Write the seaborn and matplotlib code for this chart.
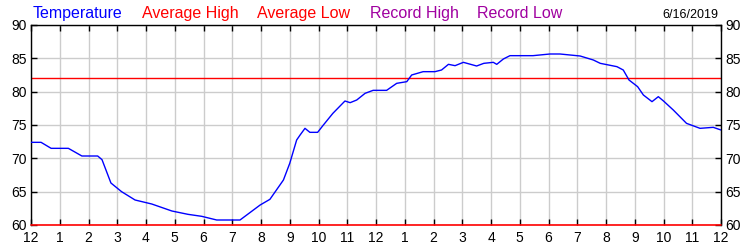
import matplotlib
matplotlib.use("Agg")
import matplotlib.pyplot as plt
import seaborn as sns
import pandas as pd

hours = [0.0, 0.35, 0.7, 1.3, 1.77, 2.32, 2.47, 2.78, 3.15, 3.62, 4.2, 4.9, 5.46, 5.94,
         6.46, 7.27, 7.97, 8.31, 8.78, 9.0, 9.24, 9.36, 9.53, 9.7, 9.97, 10.17, 10.5,
         10.92, 11.1, 11.33, 11.62, 11.9, 12.37, 12.72, 13.07, 13.24, 13.64, 14.05,
         14.28, 14.52, 14.75, 15.04, 15.5, 15.75, 16.08, 16.2, 16.43, 16.66, 17.46,
         18.05, 18.4, 19.1, 19.56, 19.8, 20.38, 20.6, 20.8, 21.1, 21.3, 21.6, 21.82,
         22.0, 22.34, 22.8, 23.27, 23.73, 24.0]
temps = [72.4, 72.4, 71.5, 71.5, 70.35, 70.35, 69.8, 66.3, 65.0, 63.75, 63.15, 62.1, 61.6, 61.3,
         60.75, 60.75, 63.0, 63.85, 66.75, 69.25, 72.75, 73.5, 74.5, 73.9, 73.9, 75.0, 76.75,
         78.6, 78.35, 78.75, 79.75, 80.2, 80.2, 81.25, 81.5, 82.5, 83.0, 83.0,
         83.25, 84.1, 83.9, 84.4, 83.85, 84.25, 84.4, 84.1, 84.9, 85.4, 85.4,
         85.65, 85.65, 85.35, 84.75, 84.25, 83.75, 83.25, 81.75, 80.75, 79.5, 78.5, 79.25,
         78.6, 77.25, 75.25, 74.5, 74.65, 74.25]
avg_high = 82
avg_low = 60
x_tick_labels = ["12", "1", "2", "3", "4", "5", "6", "7", "8", "9", "10", "11",
                 "12", "1", "2", "3", "4", "5", "6", "7", "8", "9", "10", "11", "12"]
y_ticks = [60, 65, 70, 75, 80, 85, 90]
legend_items = ["Temperature", "Average High", "Average Low", "Record High", "Record Low"]
legend_colors = ["#0000ff", "#ff0000", "#ff0000", "#a000a0", "#a000a0"]
date_label = "6/16/2019"

sns.set_style("white")
plt.rcParams['font.family'] = ['Liberation Sans', 'DejaVu Sans']

fig = plt.figure(figsize=(7.5, 2.5), dpi=100)
ax = fig.add_axes([31/750, 25/250, 690/750, 200/250])

df = pd.DataFrame({"hour": hours, "temp": temps})
sns.lineplot(data=df, x="hour", y="temp", ax=ax, color="#0000ff", linewidth=1.0, zorder=3)
ax.axhline(avg_high, color="#ff0000", linewidth=1.0, zorder=2)
ax.axhline(avg_low, color="#ff0000", linewidth=1.2, zorder=4, clip_on=False)

ax.set_xlim(0, 24)
ax.set_ylim(60, 90)
ax.set_xticks(range(25))
ax.set_xticklabels(x_tick_labels)
ax.set_yticks(y_ticks)
ax.set_xlabel("")
ax.set_ylabel("")
ax.grid(True, color="#cccccc", linewidth=1.0, zorder=1)
ax.set_axisbelow(True)
for s in ["left", "right", "top"]:
    ax.spines[s].set_color("black")
    ax.spines[s].set_linewidth(1.0)
    ax.spines[s].set_visible(True)
ax.spines["bottom"].set_visible(False)
ax.tick_params(axis="both", direction="in", length=4, width=1, color="black",
               labelsize=10, labelcolor="black")
ax.tick_params(axis="x", top=True, bottom=True, pad=4)
ax.tick_params(axis="y", left=True, right=True, labelleft=True, labelright=True, pad=3)

xs = [33, 142, 257, 370, 477]
for x, t, c in zip(xs, legend_items, legend_colors):
    fig.text(x/750, 1 - 18/250, t, color=c, fontsize=11.5, ha="left", va="baseline")
fig.text(718/750, 1 - 18/250, date_label, color="black", fontsize=9, ha="right", va="baseline")

fig.savefig("out.png", dpi=100)
